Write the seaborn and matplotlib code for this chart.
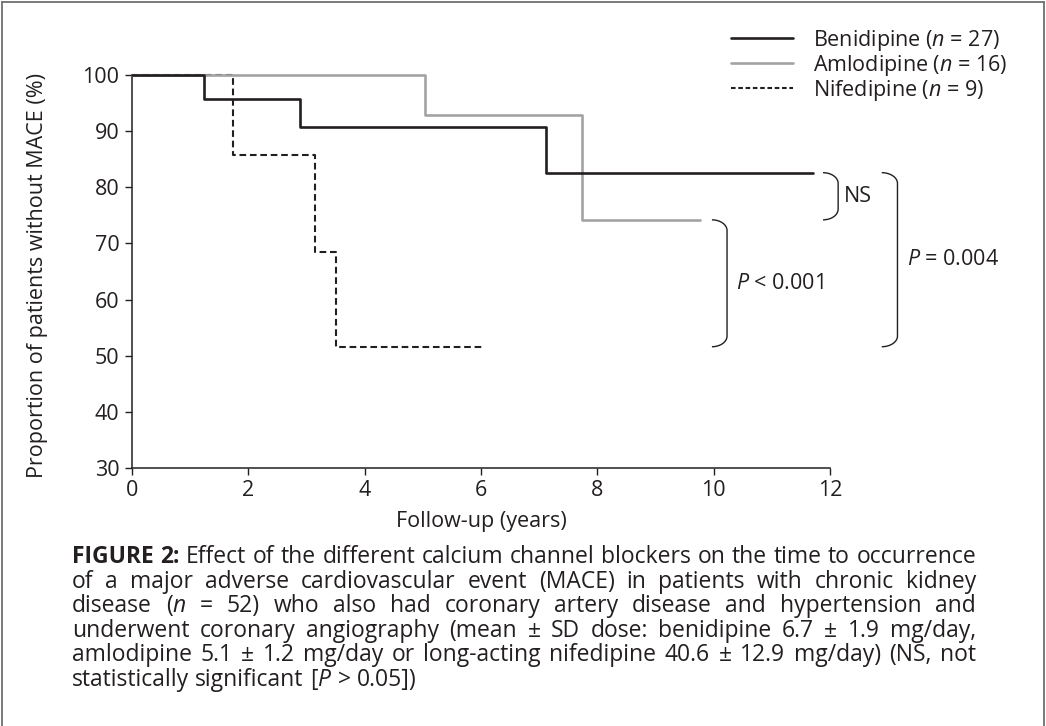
import matplotlib
matplotlib.use("Agg")
import numpy as np
import pandas as pd
import matplotlib.pyplot as plt
import seaborn as sns
from matplotlib.path import Path
from matplotlib.patches import PathPatch
from matplotlib.lines import Line2D

# ---------------- data ----------------
benidipine_years = [0, 1.24, 2.89, 7.12, 11.70]
benidipine_pct = [100, 95.8, 90.7, 82.6, 82.6]
amlodipine_years = [0, 5.03, 7.73, 9.76]
amlodipine_pct = [100, 92.8, 74.2, 74.2]
nifedipine_years = [0, 1.73, 3.14, 3.50, 6.02]
nifedipine_pct = [100, 85.8, 68.5, 51.6, 51.6]
series_labels = ["Benidipine ($n$ = 27)", "Amlodipine ($n$ = 16)", "Nifedipine ($n$ = 9)"]
x_ticks = [0, 2, 4, 6, 8, 10, 12]
y_ticks = [30, 40, 50, 60, 70, 80, 90, 100]
x_label = "Follow-up (years)"
y_label = "Proportion of patients without MACE (%)"
comparison_labels = ["NS", "$P$ < 0.001", "$P$ = 0.004"]
caption_lines = [
    "FIGURE 2: Effect of the different calcium channel blockers on the time to occurrence",
    "of a major adverse cardiovascular event (MACE) in patients with chronic kidney",
    "disease ($n$ = 52) who also had coronary artery disease and hypertension and",
    "underwent coronary angiography (mean ± SD dose: benidipine 6.7 ± 1.9 mg/day,",
    "amlodipine 5.1 ± 1.2 mg/day or long-acting nifedipine 40.6 ± 12.9 mg/day) (NS, not",
    "statistically significant [$P$ > 0.05])",
]

# ---------------- style ----------------
sns.set_theme(style="white")
FONT = "Open Sans"
plt.rcParams["font.family"] = [FONT, "DejaVu Sans"]
plt.rcParams["mathtext.fontset"] = "custom"
plt.rcParams["mathtext.rm"] = FONT
plt.rcParams["mathtext.it"] = FONT + ":italic"
plt.rcParams["mathtext.bf"] = FONT + ":bold"
TXT = "#231f20"
FS = 15.5

W, H = 1046, 726
fig = plt.figure(figsize=(W / 100, H / 100), dpi=100)
ax = fig.add_axes([132 / W, 1 - 468 / H, 698 / W, 393 / H])

df_b = pd.DataFrame({"years": benidipine_years, "pct": benidipine_pct})
df_a = pd.DataFrame({"years": amlodipine_years, "pct": amlodipine_pct})
df_n = pd.DataFrame({"years": nifedipine_years, "pct": nifedipine_pct})

sns.lineplot(data=df_n, x="years", y="pct", ax=ax, color="#231f20", lw=1.5,
             linestyle=(0, (3.2, 1.8)), drawstyle="steps-post", estimator=None,
             sort=False, clip_on=False, zorder=2)
sns.lineplot(data=df_a, x="years", y="pct", ax=ax, color="#a3a3a3", lw=1.9,
             drawstyle="steps-post", estimator=None, sort=False, clip_on=False, zorder=3)
sns.lineplot(data=df_b, x="years", y="pct", ax=ax, color="#231f20", lw=1.9,
             drawstyle="steps-post", estimator=None, sort=False, clip_on=False, zorder=4)

ax.set_xlim(0, 12)
ax.set_ylim(30, 100)
ax.set_xticks(x_ticks)
ax.set_yticks(y_ticks)
ax.tick_params(axis="both", direction="out", length=5, width=1.0, color=TXT,
               labelsize=FS, labelcolor=TXT, pad=4, left=True, bottom=True)
for s in ["top", "right"]:
    ax.spines[s].set_visible(False)
for s in ["left", "bottom"]:
    ax.spines[s].set_color(TXT)
    ax.spines[s].set_linewidth(1.1)
ax.set_xlabel(x_label, fontsize=FS, color=TXT, va="center")
ax.set_ylabel(y_label, fontsize=FS, color=TXT, va="center")
ax.xaxis.set_label_coords(0.5, -(522 - 468) / 393)
ax.yaxis.set_label_coords(-(132 - 38) / 698, 0.49)

# legend
handles = [Line2D([], [], color="#231f20", lw=1.9),
           Line2D([], [], color="#a3a3a3", lw=1.9),
           Line2D([], [], color="#231f20", lw=1.5, linestyle=(0, (2.2, 1.3)))]
ax.legend(handles, series_labels, loc="upper left",
          bbox_to_anchor=(731 / W, 1 - 28 / H), bbox_transform=fig.transFigure,
          frameon=False, borderpad=0, borderaxespad=0, fontsize=FS,
          handlelength=2.9, handletextpad=0.9, labelspacing=0.0, labelcolor=TXT)

# comparison brackets
finals = {"b": benidipine_pct[-1], "a": amlodipine_pct[-1], "n": nifedipine_pct[-1]}
bracket_specs = [  # (label, top, bottom, x0, x1, text_x)
    (comparison_labels[0], finals["b"], finals["a"], 11.88, 12.14, 12.24),
    (comparison_labels[1], finals["a"], finals["n"], 9.97, 10.23, 10.38),
    (comparison_labels[2], finals["b"], finals["n"], 12.89, 13.16, 13.32),
]
k = 0.5523
for lab, ytop, ybot, x0, x1, tx in bracket_specs:
    rx = x1 - x0
    ry = 1.9
    verts = [(x0, ytop),
             (x0 + k * rx, ytop), (x1, ytop - ry + k * ry), (x1, ytop - ry),
             (x1, ybot + ry),
             (x1, ybot + ry - k * ry), (x0 + k * rx, ybot), (x0, ybot)]
    codes = [Path.MOVETO, Path.CURVE4, Path.CURVE4, Path.CURVE4, Path.LINETO,
             Path.CURVE4, Path.CURVE4, Path.CURVE4]
    ax.add_patch(PathPatch(Path(verts, codes), fill=False, edgecolor=TXT, lw=1.0,
                           clip_on=False, transform=ax.transData))
    ax.text(tx, (ytop + ybot) / 2, lab, fontsize=FS, color=TXT, ha="left",
            va="center", clip_on=False)

# outer frame
for xs, ys in [((1.5 / W, 1.5 / W), (0, 1 - 1.5 / H)),
               ((1.5 / W, 1 - 2.5 / W), (1 - 1.5 / H, 1 - 1.5 / H)),
               ((1 - 2.5 / W, 1 - 2.5 / W), (0, 1 - 1.5 / H))]:
    fig.add_artist(Line2D(xs, ys, color="#6d6e71", lw=1.3, transform=fig.transFigure))

# justified caption
fig.canvas.draw()
renderer = fig.canvas.get_renderer()
left_px, right_px = 72, 976
base0, step = 563, 24.6


def measure(size):
    sp = fig.text(0, 0, "a a", fontsize=size)
    sp2 = fig.text(0, 0, "aa", fontsize=size)
    space_w = sp.get_window_extent(renderer).width - sp2.get_window_extent(renderer).width
    sp.remove(); sp2.remove()
    out = []
    for i, line in enumerate(caption_lines):
        ws = []
        for j, w in enumerate(line.split(" ")):
            t = fig.text(0, 0, w, fontsize=size,
                         fontweight="bold" if (i == 0 and j < 2) else "normal")
            ws.append(t.get_window_extent(renderer).width)
            t.remove()
        out.append(ws)
    return space_w, out


base_size = 14.0
space_w, wlist = measure(base_size)
natural = max(sum(ws) + space_w * (len(ws) - 1) for ws in wlist[:-1])
cap_size = base_size * (right_px - left_px) * 0.995 / natural
space_w, wlist = measure(cap_size)

for i, line in enumerate(caption_lines):
    words = line.split(" ")
    y = 1 - (base0 + i * step) / H
    widths = wlist[i]
    justify = i < len(caption_lines) - 1
    gap = (right_px - left_px - sum(widths)) / (len(words) - 1) if justify else space_w
    x = left_px
    for j, (w, wd) in enumerate(zip(words, widths)):
        fig.text(x / W, y, w, fontsize=cap_size, color=TXT, ha="left", va="baseline",
                 fontweight="bold" if (i == 0 and j < 2) else "normal")
        x += wd + gap

fig.savefig("out.png", dpi=100)
